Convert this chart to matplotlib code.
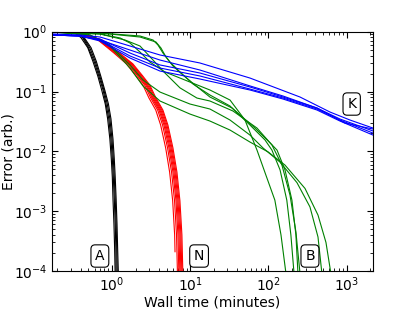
import matplotlib
matplotlib.use("Agg")
import matplotlib.pyplot as plt

plt.rcParams['font.family'] = ['DejaVu Sans']
plt.rcParams['mathtext.default'] = 'regular'

# A (black)
a_y = [0.99, 0.98, 0.94, 0.80, 0.54, 0.32, 0.18, 0.105, 0.062, 0.035, 0.016, 0.0075, 0.0037, 0.0016, 0.0006, 0.00025, 0.00008]
a1_x = [0.17, 0.28, 0.34, 0.40, 0.49, 0.57, 0.66, 0.74, 0.82, 0.88, 0.94, 0.98, 1.01, 1.03, 1.06, 1.08, 1.10]
a2_x = [0.17, 0.29, 0.35, 0.42, 0.50, 0.59, 0.68, 0.77, 0.84, 0.91, 0.97, 1.01, 1.04, 1.07, 1.10, 1.12, 1.13]
a3_x = [0.17, 0.30, 0.36, 0.43, 0.52, 0.61, 0.70, 0.79, 0.87, 0.94, 1.00, 1.04, 1.07, 1.10, 1.13, 1.15, 1.17]
a4_x = [0.17, 0.31, 0.37, 0.44, 0.54, 0.63, 0.72, 0.81, 0.90, 0.97, 1.03, 1.07, 1.10, 1.13, 1.16, 1.18, 1.21]

# N (red)
n_y = [0.99, 0.99, 0.88, 0.73, 0.44, 0.29, 0.18, 0.128, 0.078, 0.049, 0.0275, 0.0114, 0.0045, 0.0015, 0.0004, 0.00008]
n1_x = [0.17, 0.30, 0.44, 0.66, 1.06, 1.53, 2.04, 2.49, 2.97, 3.63, 4.19, 4.86, 5.46, 5.97, 6.33, 6.40]
n1_y = [0.99, 0.99, 0.88, 0.73, 0.44, 0.29, 0.18, 0.128, 0.078, 0.049, 0.0275, 0.0114, 0.0045, 0.0015, 0.0004, 0.00021]
n2_x = [0.17, 0.30, 0.44, 0.67, 1.10, 1.60, 2.14, 2.62, 3.13, 3.84, 4.44, 5.14, 5.78, 6.31, 6.69, 6.89]
n3_x = [0.17, 0.30, 0.45, 0.69, 1.13, 1.65, 2.21, 2.72, 3.25, 3.99, 4.62, 5.35, 6.02, 6.58, 6.97, 7.19]
n4_x = [0.17, 0.30, 0.45, 0.70, 1.16, 1.70, 2.28, 2.80, 3.35, 4.11, 4.76, 5.52, 6.21, 6.78, 7.19, 7.41]
n5_x = [0.17, 0.30, 0.46, 0.72, 1.19, 1.75, 2.35, 2.88, 3.45, 4.23, 4.90, 5.69, 6.40, 6.98, 7.41, 7.63]
n6_x = [0.17, 0.31, 0.47, 0.73, 1.22, 1.80, 2.42, 2.97, 3.55, 4.36, 5.05, 5.85, 6.58, 7.19, 7.62, 7.85]
n7_x = [0.17, 0.31, 0.47, 0.74, 1.25, 1.85, 2.49, 3.05, 3.65, 4.48, 5.19, 6.02, 6.77, 7.39, 7.84, 8.08]

# B (green)
b1_x = [0.171, 0.703, 1.27, 1.70, 2.28, 3.06, 4.76, 9.94, 17.9, 32.3, 50.2, 71.5, 93.0, 121, 145, 168]
b1_y = [0.99, 0.916, 0.785, 0.647, 0.458, 0.311, 0.212, 0.144, 0.106, 0.0721, 0.0334, 0.0105, 0.0040, 0.00153, 0.00040, 0.00009]
b2_x = [0.171, 0.703, 2.28, 3.35, 3.87, 4.49, 5.52, 7.41, 10.9, 17.9, 32.3, 58.2, 90.5, 111, 141, 172, 194, 213]
b2_y = [0.99, 0.95, 0.848, 0.726, 0.600, 0.440, 0.311, 0.212, 0.133, 0.0874, 0.0573, 0.0275, 0.0155, 0.0105, 0.0049, 0.00153, 0.00040, 0.00009]
b3_x = [0.171, 0.703, 2.28, 3.65, 4.23, 4.90, 6.02, 8.09, 11.9, 17.9, 34.3, 67.4, 105, 129, 163, 200, 225, 239]
b3_y = [0.99, 0.95, 0.815, 0.673, 0.534, 0.378, 0.267, 0.189, 0.124, 0.0809, 0.0530, 0.0245, 0.0139, 0.0105, 0.0049, 0.00153, 0.00040, 0.00009]
b4_x = [0.171, 0.523, 0.942, 1.70, 2.49, 4.11, 9.94, 17.9, 32.3, 58.2, 85.3, 141, 232, 340, 431, 484]
b4_y = [0.99, 0.881, 0.600, 0.278, 0.156, 0.098, 0.0618, 0.0510, 0.0334, 0.0187, 0.0114, 0.0066, 0.0030, 0.00118, 0.00037, 0.00009]
b5_x = [0.171, 0.523, 0.942, 1.70, 2.49, 4.11, 9.94, 17.9, 32.3, 58.2, 98.9, 163, 294, 431, 545, 631]
b5_y = [0.99, 0.881, 0.577, 0.247, 0.124, 0.0694, 0.0420, 0.0321, 0.0227, 0.0143, 0.0098, 0.0059, 0.0024, 0.00086, 0.00030, 0.00009]
b6_x = [0.171, 0.703, 1.47, 2.28, 3.35, 4.49, 7.41, 12.2, 17.9, 35.3, 71.5, 111, 149, 189, 225, 254]
b6_y = [0.99, 0.916, 0.726, 0.577, 0.336, 0.220, 0.115, 0.0778, 0.0694, 0.0472, 0.0245, 0.0128, 0.0059, 0.00186, 0.00045, 0.00009]

# K (blue)
k_x = [0.171, 0.390, 0.703, 1.70, 4.11, 13.3, 58.2, 154, 418, 824, 2177]
k1_x = [0.171, 0.390, 0.703, 1.70, 4.11, 13.3, 58.2, 254, 614, 1105, 2177]
k1_y = [0.916, 0.881, 0.815, 0.577, 0.408, 0.300, 0.168, 0.0809, 0.0454, 0.0334, 0.0245]
k2_y = [0.881, 0.848, 0.755, 0.440, 0.278, 0.204, 0.119, 0.0809, 0.0530, 0.0347, 0.0219]
k3_y = [0.881, 0.848, 0.726, 0.393, 0.247, 0.182, 0.110, 0.0778, 0.0510, 0.0334, 0.0202]
k4_y = [0.881, 0.848, 0.699, 0.363, 0.220, 0.162, 0.106, 0.0749, 0.0491, 0.0321, 0.0187]
k5_x = [0.171, 0.390, 0.703, 1.70, 4.11, 13.3, 58.2, 154, 418, 954, 2177]
k5_y = [0.881, 0.848, 0.726, 0.494, 0.336, 0.229, 0.124, 0.0841, 0.0530, 0.0297, 0.0236]

fig = plt.figure(figsize=(4.15, 3.12), dpi=100)
ax = fig.add_axes([52/415, 41/312, 321/415, 239.3/312])

lw = 0.8
for xs in [a1_x, a2_x, a3_x, a4_x]:
    ax.plot(xs, a_y, color='k', lw=lw)
ax.plot(n1_x, n1_y, color='r', lw=lw)
for xs in [n2_x, n3_x, n4_x, n5_x, n6_x, n7_x]:
    ax.plot(xs, n_y, color='r', lw=lw)
for xs, ys in [(b1_x, b1_y), (b2_x, b2_y), (b3_x, b3_y), (b4_x, b4_y), (b5_x, b5_y), (b6_x, b6_y)]:
    ax.plot(xs, ys, color='g', lw=lw)
ax.plot(k1_x, k1_y, color='b', lw=lw)
for ys in [k2_y, k3_y, k4_y]:
    ax.plot(k_x, ys, color='b', lw=lw)
ax.plot(k5_x, k5_y, color='b', lw=lw)

ax.set_xscale('log')
ax.set_yscale('log')
ax.set_xlim(0.171, 2177)
ax.set_ylim(1e-4, 1)
ax.tick_params(which='both', direction='in', top=True, right=True, labelsize=10)
ax.tick_params(which='major', length=4)
ax.tick_params(which='minor', length=2)
ax.set_xlabel('Wall time (minutes)', fontsize=10, labelpad=1)
ax.set_ylabel('Error (arb.)', fontsize=10)
ax.yaxis.set_label_coords(-0.115, 0.5)

box = dict(boxstyle='round,pad=0.3', fc='white', ec='k', lw=0.8)
for lbl, x, y in [('A', 0.70, 1.78e-4), ('N', 13.0, 1.78e-4), ('B', 340, 1.78e-4), ('K', 1162, 0.0618)]:
    ax.text(x, y, lbl, ha='center', va='center', fontsize=10, bbox=box)

fig.savefig('out.png', dpi=100)
